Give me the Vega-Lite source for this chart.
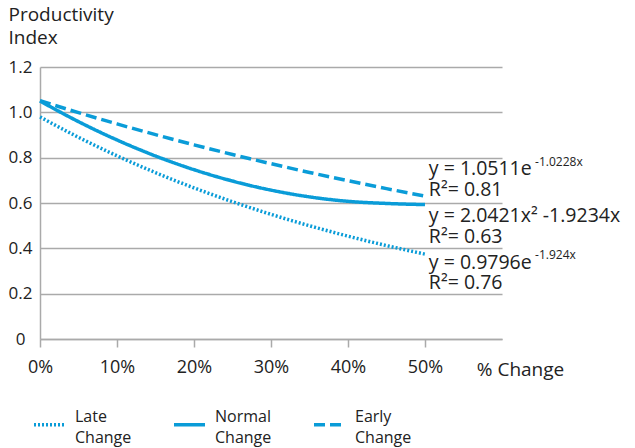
{
  "$schema": "https://vega.github.io/schema/vega-lite/v6.json",
  "width": 462,
  "height": 272,
  "autosize": "none",
  "padding": {"left": 40, "top": 67, "right": 133, "bottom": 109},
  "background": "white",
  "config": {
    "font": "Open Sans",
    "view": {"stroke": null},
    "text": {"font": "Open Sans", "color": "#222222"}
  },
  "data": {
    "values": [
      {"x": 0.00, "y": 1.0511, "series": "Early Change"},
      {"x": 0.05, "y": 0.9987, "series": "Early Change"},
      {"x": 0.10, "y": 0.9489, "series": "Early Change"},
      {"x": 0.15, "y": 0.9016, "series": "Early Change"},
      {"x": 0.20, "y": 0.8566, "series": "Early Change"},
      {"x": 0.25, "y": 0.8139, "series": "Early Change"},
      {"x": 0.30, "y": 0.7734, "series": "Early Change"},
      {"x": 0.35, "y": 0.7348, "series": "Early Change"},
      {"x": 0.40, "y": 0.6982, "series": "Early Change"},
      {"x": 0.45, "y": 0.6634, "series": "Early Change"},
      {"x": 0.50, "y": 0.6303, "series": "Early Change"},
      {"x": 0.00, "y": 1.0500, "series": "Normal Change"},
      {"x": 0.05, "y": 0.9589, "series": "Normal Change"},
      {"x": 0.10, "y": 0.8781, "series": "Normal Change"},
      {"x": 0.15, "y": 0.8074, "series": "Normal Change"},
      {"x": 0.20, "y": 0.7470, "series": "Normal Change"},
      {"x": 0.25, "y": 0.6968, "series": "Normal Change"},
      {"x": 0.30, "y": 0.6568, "series": "Normal Change"},
      {"x": 0.35, "y": 0.6270, "series": "Normal Change"},
      {"x": 0.40, "y": 0.6074, "series": "Normal Change"},
      {"x": 0.45, "y": 0.5980, "series": "Normal Change"},
      {"x": 0.50, "y": 0.5930, "series": "Normal Change"},
      {"x": 0.00, "y": 0.9796, "series": "Late Change"},
      {"x": 0.05, "y": 0.8898, "series": "Late Change"},
      {"x": 0.10, "y": 0.8082, "series": "Late Change"},
      {"x": 0.15, "y": 0.7340, "series": "Late Change"},
      {"x": 0.20, "y": 0.6667, "series": "Late Change"},
      {"x": 0.25, "y": 0.6056, "series": "Late Change"},
      {"x": 0.30, "y": 0.5500, "series": "Late Change"},
      {"x": 0.35, "y": 0.4996, "series": "Late Change"},
      {"x": 0.40, "y": 0.4538, "series": "Late Change"},
      {"x": 0.45, "y": 0.4122, "series": "Late Change"},
      {"x": 0.50, "y": 0.3744, "series": "Late Change"}
    ]
  },
  "layer": [
    {
      "mark": {"type": "line", "color": "#0a9cd8", "strokeWidth": 3.5, "strokeCap": "butt", "interpolate": "monotone"},
      "encoding": {
        "x": {
          "field": "x", "type": "quantitative",
          "scale": {"domain": [0, 0.6], "nice": false, "zero": false},
          "axis": {
            "values": [0, 0.1, 0.2, 0.3, 0.4, 0.5],
            "format": ".0%",
            "grid": false,
            "labelFlush": false,
            "domainColor": "#aaaaaa", "domainWidth": 1.5,
            "tickColor": "#aaaaaa", "tickWidth": 1.5, "tickSize": 8,
            "labelFontSize": 18, "labelColor": "#222222", "labelPadding": 11,
            "title": "% Change",
            "titleFontSize": 19, "titleFontWeight": "normal", "titleColor": "#222222",
            "titleAnchor": "start", "titleAlign": "center",
            "titleX": 480, "titleY": 36, "titleBaseline": "alphabetic"
          }
        },
        "y": {
          "field": "y", "type": "quantitative",
          "scale": {"domain": [0, 1.2], "nice": false},
          "axis": {
            "values": [0, 0.2, 0.4, 0.6, 0.8, 1.0, 1.2],
            "labelExpr": "datum.value == 0 ? '0' : format(datum.value, '.1f')",
            "grid": true, "gridColor": "#aaaaaa", "gridWidth": 1.5,
            "domainColor": "#aaaaaa", "domainWidth": 1.5,
            "ticks": false, "tickSize": 0,
            "labelFontSize": 17, "labelColor": "#222222", "labelAlign": "center", "labelPadding": 20,
            "title": ["Productivity", "Index"],
            "titleFontSize": 19, "titleFontWeight": "normal", "titleColor": "#222222",
            "titleAngle": 0, "titleAlign": "left", "titleBaseline": "top",
            "titleX": -32, "titleY": -62, "titleLineHeight": 23
          }
        },
        "strokeDash": {
          "field": "series", "type": "nominal",
          "scale": {"domain": ["Late Change", "Normal Change", "Early Change"], "range": [[2, 2], [1, 0], [11, 5]]},
          "legend": {
            "title": null,
            "orient": "none", "legendX": -8, "legendY": 340,
            "direction": "horizontal",
            "symbolType": "stroke", "symbolSize": 961,
            "symbolStrokeWidth": 3.5, "symbolStrokeColor": "#0a9cd8",
            "labelExpr": "split(datum.label, ' ')",
            "labelFontSize": 16, "labelColor": "#222222", "labelOffset": 8,
            "gridAlign": "all", "columnPadding": 35,
            "encode": {"labels": {"update": {"dy": {"value": -8}, "lineHeight": {"value": 21}}}}
          }
        }
      }
    },
    {
      "data": {"values": [{}]},
      "mark": {"type": "text", "align": "left", "baseline": "middle", "fontSize": 19.5, "text": "y  = 1.0511e"},
      "encoding": {"x": {"datum": 0.505}, "y": {"datum": 0.748}}
    },
    {
      "data": {"values": [{}]},
      "mark": {"type": "text", "align": "left", "baseline": "middle", "fontSize": 12, "text": "-1.0228x"},
      "encoding": {"x": {"datum": 0.643}, "y": {"datum": 0.783}}
    },
    {
      "data": {"values": [{}]},
      "mark": {"type": "text", "align": "left", "baseline": "middle", "fontSize": 19.5, "text": "R²= 0.81"},
      "encoding": {"x": {"datum": 0.505}, "y": {"datum": 0.657}}
    },
    {
      "data": {"values": [{}]},
      "mark": {"type": "text", "align": "left", "baseline": "middle", "fontSize": 19.5, "text": "y  = 2.0421x² -1.9234x"},
      "encoding": {"x": {"datum": 0.505}, "y": {"datum": 0.543}}
    },
    {
      "data": {"values": [{}]},
      "mark": {"type": "text", "align": "left", "baseline": "middle", "fontSize": 19.5, "text": "R²= 0.63"},
      "encoding": {"x": {"datum": 0.505}, "y": {"datum": 0.452}}
    },
    {
      "data": {"values": [{}]},
      "mark": {"type": "text", "align": "left", "baseline": "middle", "fontSize": 19.5, "text": "y  = 0.9796e"},
      "encoding": {"x": {"datum": 0.505}, "y": {"datum": 0.3375}}
    },
    {
      "data": {"values": [{}]},
      "mark": {"type": "text", "align": "left", "baseline": "middle", "fontSize": 12, "text": "-1.924x"},
      "encoding": {"x": {"datum": 0.643}, "y": {"datum": 0.37}}
    },
    {
      "data": {"values": [{}]},
      "mark": {"type": "text", "align": "left", "baseline": "middle", "fontSize": 19.5, "text": "R²= 0.76"},
      "encoding": {"x": {"datum": 0.505}, "y": {"datum": 0.247}}
    }
  ]
}
